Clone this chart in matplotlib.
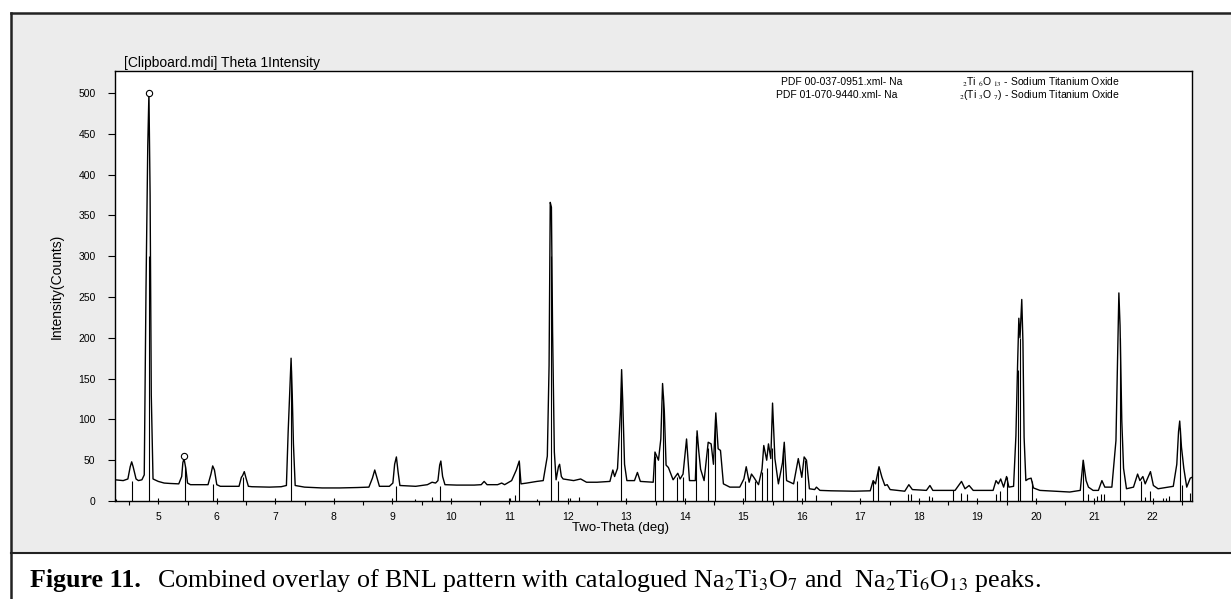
import matplotlib
matplotlib.use("Agg")
import matplotlib.pyplot as plt
from matplotlib.patches import Rectangle
from matplotlib.lines import Line2D
from matplotlib.ticker import MultipleLocator

plt.rcParams['font.family'] = ['Liberation Sans', 'DejaVu Sans']
plt.rcParams['mathtext.fontset'] = 'stix'

# digitised scan (two-theta, counts)
two_theta = [4.26, 4.40, 4.48, 4.52, 4.545, 4.57, 4.62, 4.66, 4.72, 4.76, 4.79, 4.82, 4.84, 4.86, 4.88, 4.91,
             5.00, 5.10, 5.20, 5.35, 5.40, 5.42, 5.44, 5.47, 5.50, 5.55, 5.70, 5.85, 5.90, 5.93, 5.96, 6.00,
             6.06, 6.25, 6.38, 6.42, 6.44, 6.47, 6.50, 6.54, 6.60, 6.90, 7.10, 7.19, 7.22, 7.25, 7.27, 7.29,
             7.31, 7.34, 7.50, 7.80, 8.10, 8.40, 8.60, 8.66, 8.70, 8.74, 8.78, 8.95, 9.01, 9.04, 9.07, 9.10,
             9.13, 9.40, 9.60, 9.68, 9.74, 9.78, 9.81, 9.83, 9.86, 9.90, 10.10, 10.40, 10.52, 10.57, 10.62,
             10.80, 10.87, 10.92, 11.04, 11.12, 11.17, 11.20, 11.30, 11.47, 11.58, 11.65, 11.68, 11.70, 11.72,
             11.74, 11.77, 11.80, 11.84, 11.86, 11.89, 11.92, 12.10, 12.22, 12.32, 12.50, 12.72, 12.77, 12.80,
             12.85, 12.90, 12.92, 12.94, 12.97, 13.01, 13.14, 13.19, 13.24, 13.46, 13.49, 13.55, 13.59, 13.62,
             13.65, 13.68, 13.72, 13.80, 13.88, 13.92, 13.97, 14.03, 14.08, 14.18, 14.21, 14.24, 14.27, 14.33,
             14.40, 14.45, 14.49, 14.53, 14.57, 14.61, 14.66, 14.77, 14.94, 15.01, 15.05, 15.10, 15.14, 15.18,
             15.26, 15.32, 15.35, 15.40, 15.43, 15.47, 15.50, 15.54, 15.60, 15.67, 15.70, 15.74, 15.86, 15.94,
             16.00, 16.04, 16.08, 16.13, 16.22, 16.25, 16.31, 16.50, 16.90, 17.17, 17.22, 17.26, 17.32, 17.37,
             17.42, 17.46, 17.51, 17.76, 17.83, 17.89, 18.13, 18.19, 18.24, 18.62, 18.73, 18.79, 18.86, 18.93,
             19.27, 19.32, 19.36, 19.40, 19.45, 19.50, 19.54, 19.62, 19.66, 19.69, 19.71, 19.73, 19.76, 19.78,
             19.80, 19.83, 19.87, 19.92, 19.96, 20.07, 20.58, 20.76, 20.81, 20.86, 20.90, 20.98, 21.07, 21.13,
             21.18, 21.30, 21.37, 21.40, 21.42, 21.44, 21.47, 21.50, 21.55, 21.67, 21.74, 21.78, 21.83, 21.87,
             21.96, 22.01, 22.09, 22.26, 22.35, 22.41, 22.44, 22.46, 22.49, 22.53, 22.58, 22.64, 22.67]
counts = [26, 25, 27, 42, 48, 42, 27, 25, 26, 32, 260, 435, 500, 375, 130, 27,
          24, 22, 21.5, 21, 30, 47, 52, 40, 22, 20, 20, 20, 33, 43, 38, 20,
          18, 18, 18, 29, 31, 36, 28, 18, 17.5, 17, 17.5, 19, 85, 140, 175, 130,
          70, 19, 17, 16, 16, 16.5, 17, 28, 38, 28, 18, 18, 22, 45, 54, 35,
          19, 18, 20, 23, 22, 25, 44, 49, 30, 20, 19.5, 19.5, 20, 24, 20,
          20, 22, 20, 25, 38, 49, 21, 22, 24, 25, 55, 166, 366, 360,
          207, 60, 26, 42, 45, 30, 27, 25, 27, 23, 23, 24, 38, 30,
          40, 110, 161, 120, 45, 25, 25, 35, 24, 23, 60, 50, 76, 144,
          110, 44, 41, 26, 34, 27, 33, 76, 25, 25, 86, 60, 39, 25,
          72, 70, 45, 108, 64, 62, 21, 17, 17, 27, 42, 23, 33, 29,
          20, 39, 68, 50, 70, 52, 120, 52, 21, 47, 72, 25, 21, 52,
          29, 54, 50, 15, 14, 17, 13, 12.5, 12, 12.5, 25, 21, 42, 29,
          19, 20, 14, 12, 20, 14, 13, 19, 13, 13, 24, 15, 19, 13,
          13, 25, 21, 27, 17, 30, 17, 18, 80, 171, 224, 200, 247, 195,
          78, 25, 27, 28, 16, 13, 11, 13, 50, 25, 17, 13, 13, 25,
          17, 17, 74, 186, 255, 215, 98, 40, 15, 17, 33, 25, 30, 21,
          36, 19, 15, 17, 18, 45, 85, 98, 66, 40, 17, 28, 29]

# reference card lines
stick_pos = [4.28, 4.545, 4.84, 5.45, 5.94, 6.44, 7.27, 9.07, 9.39, 9.68, 9.82, 11.02, 11.10, 11.17,
             11.48, 11.71, 11.84, 12.03, 12.20, 12.91, 13.00, 13.49, 13.63, 13.86, 13.97, 14.20, 14.40,
             14.52, 15.03, 15.20, 15.32, 15.40, 15.49, 15.68, 15.91, 16.05, 16.25, 17.21, 17.31, 17.81,
             17.86, 18.18, 18.22, 18.59, 18.72, 18.83, 19.32, 19.39, 19.50, 19.69, 19.73, 19.93, 20.81,
             20.90, 21.04, 21.11, 21.17, 21.44, 21.80, 21.87, 21.95, 22.18, 22.22, 22.28, 22.46, 22.50,
             22.63]
stick_h = [3, 25, 300, 43, 21, 30, 160, 18, 3, 5, 18, 4, 7, 48,
           3, 300, 25, 4, 5, 140, 3, 55, 130, 30, 30, 80, 65,
           100, 25, 25, 35, 40, 65, 65, 25, 50, 7, 25, 40, 8,
           8, 6, 5, 13, 10, 8, 8, 12, 30, 160, 200, 25, 50,
           8, 6, 8, 8, 200, 25, 5, 12, 4, 4, 6, 90, 20,
           10]

marker_x = [4.84, 5.44]
marker_y = [500, 55]

W, H = 1231, 599
fig = plt.figure(figsize=(W / 100, H / 100), dpi=100)
fig.patch.set_facecolor('white')

def fx(px):
    return px / W

def fy(py):
    return 1 - py / H

# grey panel and frame
fig.add_artist(Rectangle((fx(11), fy(553)), fx(W) - fx(11), fy(13) - fy(553),
                         transform=fig.transFigure, facecolor='#ececec', edgecolor='none', zorder=0))
fig.add_artist(Line2D([fx(11), 1], [fy(13), fy(13)], transform=fig.transFigure, color='#222222', lw=1.8))
fig.add_artist(Line2D([fx(11), fx(11)], [fy(13), 0], transform=fig.transFigure, color='#222222', lw=1.8))
fig.add_artist(Line2D([fx(11), 1], [fy(553), fy(553)], transform=fig.transFigure, color='#222222', lw=1.5))

ax = fig.add_axes([fx(115), fy(501), fx(1192) - fx(115), fy(71) - fy(501)])
ax.set_facecolor('white')
ax.plot(two_theta, counts, color='black', lw=1.0)
ax.vlines(stick_pos, 0, stick_h, color='black', lw=0.8)
ax.plot(marker_x, marker_y, 'o', ms=4.5, mfc='white', mec='black', mew=0.8)

ax.set_xlim(4.26, 22.67)
ax.set_ylim(0, 527)
ax.xaxis.set_major_locator(MultipleLocator(1))
ax.xaxis.set_minor_locator(MultipleLocator(0.5))
ax.yaxis.set_major_locator(MultipleLocator(50))
ax.tick_params(axis='x', which='major', direction='inout', length=4, width=0.8, labelsize=7.5, pad=6)
ax.tick_params(axis='x', which='minor', direction='out', length=3, width=0.8)
ax.tick_params(axis='y', direction='out', length=5, width=0.8, labelsize=7.5, pad=9)
for s in ax.spines.values():
    s.set_linewidth(1.0)

fig.text(fx(124), fy(63), '[Clipboard.mdi] Theta 1Intensity', fontsize=10, va='center', ha='left')
fig.text(fx(57), fy(286), 'Intensity(Counts)', fontsize=10, rotation=90, va='center', ha='center')
fig.text(fx(620), fy(528), 'Two-Theta (deg)', fontsize=9.5, va='center', ha='center')

fig.text(fx(781), fy(82), 'PDF 00-037-0951.xml- Na', fontsize=7.5, va='center', ha='left')
fig.text(fx(962), fy(82), r'$_2$Ti $_6$O $_{13}$ - Sodium Titanium Oxide', fontsize=7.5, va='center', ha='left')
fig.text(fx(776), fy(95.5), 'PDF 01-070-9440.xml- Na', fontsize=7.5, va='center', ha='left')
fig.text(fx(959), fy(95.5), r'$_2$(Ti $_3$O $_7$) - Sodium Titanium Oxide', fontsize=7.5, va='center', ha='left')

fig.text(fx(30), fy(580), 'Figure 11.', fontsize=18.7, fontweight='bold', family='Liberation Serif',
         va='center', ha='left')
fig.text(fx(157), fy(580), r'Combined overlay of BNL pattern with catalogued Na$_2$Ti$_3$O$_7$ and  Na$_2$Ti$_6$O$_{13}$ peaks.',
         fontsize=18.7, family='Liberation Serif', va='center', ha='left')

fig.savefig('out.png', dpi=100)
